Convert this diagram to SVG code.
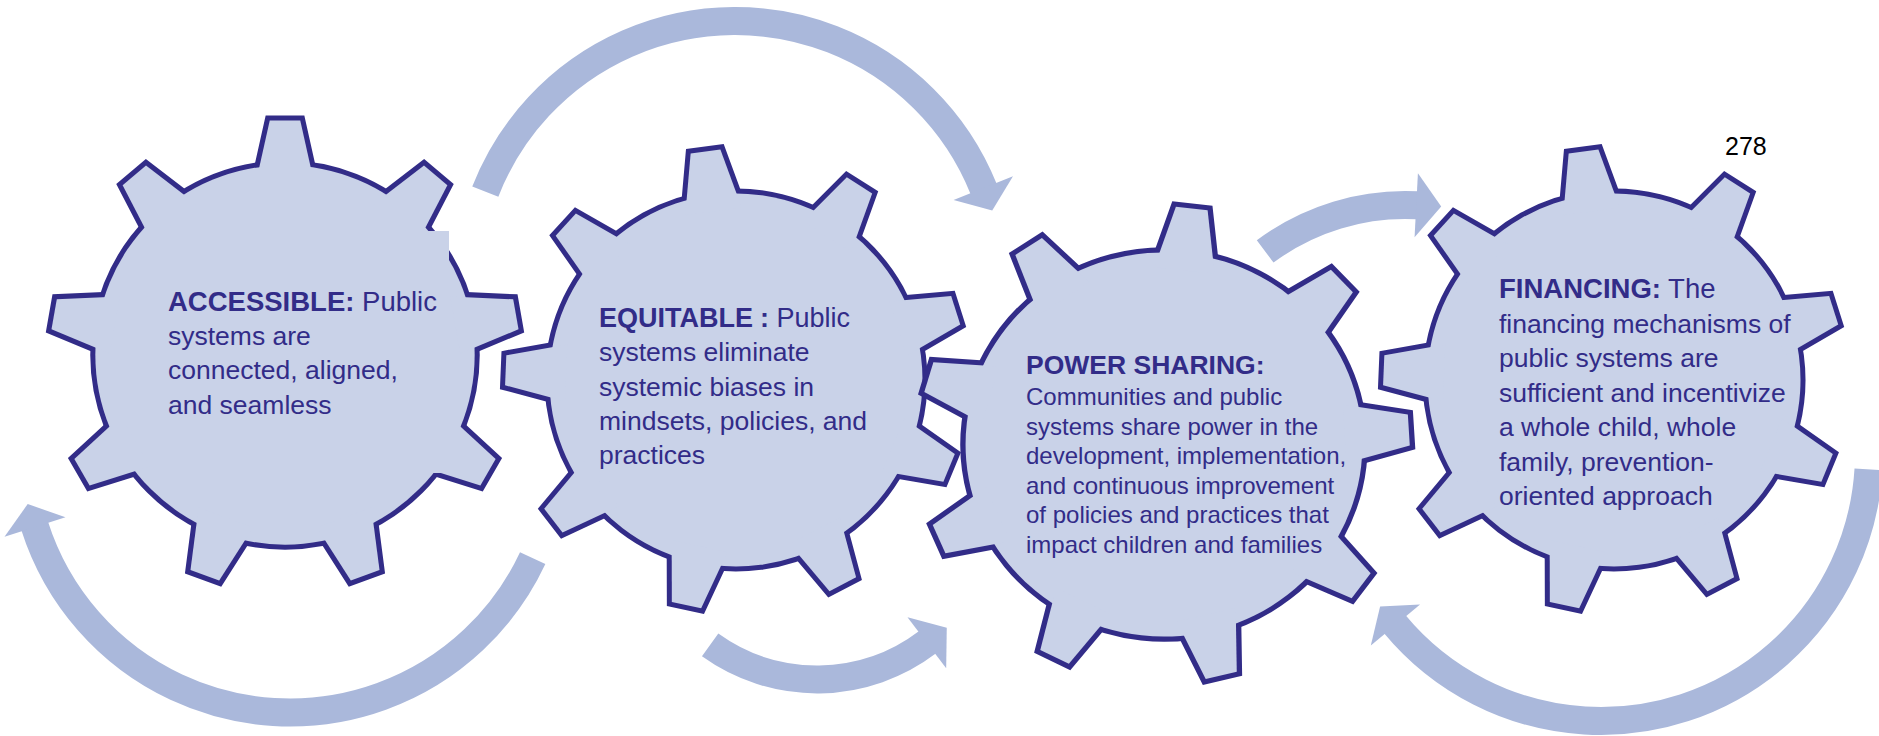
<svg xmlns="http://www.w3.org/2000/svg" xmlns:xlink="http://www.w3.org/1999/xlink" width="1879" height="736" viewBox="0 0 1879 736">
  <style>
    .arc { fill: none; stroke: #aab8db; stroke-width: 28; }
    .head { fill: #aab8db; }
    .rim { fill: none; stroke: #322c88; stroke-width: 10; stroke-linejoin: miter; }
    .body { fill: #c9d2e8; }
    .label { font-family: "Liberation Sans", Arial, sans-serif; font-size: 26.5px; fill: #322c88; }
    .hd { font-weight: bold; }
    .small { font-size: 24px; }
    .page { font-family: "Liberation Sans", Arial, sans-serif; font-size: 25px; fill: #000000; }
  </style>
  <defs>
    <!-- one trapezoid tooth pointing up; its base sinks into the hub -->
    <polygon id="tooth" points="-28.5,-170 -15,-230.5 15,-230.5 28.5,-170"/>
    <!-- nine-tooth gear outline, centred on the origin -->
    <g id="gearShape">
      <circle r="186.5"/>
      <use href="#tooth"/>
      <use href="#tooth" transform="rotate(40)"/>
      <use href="#tooth" transform="rotate(80)"/>
      <use href="#tooth" transform="rotate(120)"/>
      <use href="#tooth" transform="rotate(160)"/>
      <use href="#tooth" transform="rotate(200)"/>
      <use href="#tooth" transform="rotate(240)"/>
      <use href="#tooth" transform="rotate(280)"/>
      <use href="#tooth" transform="rotate(320)"/>
    </g>
  </defs>

  <rect width="1879" height="736" fill="#ffffff"/>

  <!-- curved arrows: partial circles plus a triangular head -->
  <g id="connectors">
    <g transform="translate(735,289)">
      <circle class="arc" r="268" transform="rotate(-158.7)" stroke-dasharray="639.9 1200"/>
      <polygon class="head" transform="rotate(-21.9)" points="236,-1 300,-1 268,23"/>
    </g>
    <g transform="translate(290,444.5)">
      <circle class="arc" r="268" transform="rotate(25.1)" stroke-dasharray="641.7 1200"/>
      <polygon class="head" transform="rotate(162.3)" points="236,-1 300,-1 268,23"/>
    </g>
    <g transform="translate(1405,439)">
      <circle class="arc" r="234" transform="rotate(-126.7)" stroke-dasharray="162.1 1500"/>
      <polygon class="head" transform="rotate(-87)" points="202,-1 266,-1 234,24"/>
    </g>
    <g transform="translate(817,496.4)">
      <circle class="arc" r="183" transform="rotate(52.8)" stroke-dasharray="232.8 1200"/>
      <polygon class="head" transform="rotate(52.8)" points="151,1 215,1 183,-24"/>
    </g>
    <g transform="translate(1601,453)">
      <circle class="arc" r="268" transform="rotate(3.5)" stroke-dasharray="639.9 1200"/>
      <polygon class="head" transform="rotate(140.3)" points="236,-1 300,-1 268,23"/>
    </g>
  </g>

  <g id="gear-accessible">
    <g transform="translate(285,355) scale(1.017)">
      <use href="#gearShape" class="rim"/>
      <use href="#gearShape" class="body"/>
    </g>
    <rect class="body" x="160" y="231" width="289" height="242"/>
    <text class="label">
      <tspan x="168" y="310.5" style="font-size:27.5px"><tspan class="hd">ACCESSIBLE:</tspan> Public</tspan>
      <tspan x="168" y="345">systems are</tspan>
      <tspan x="168" y="379">connected, aligned,</tspan>
      <tspan x="168" y="413.5">and seamless</tspan>
    </text>
  </g>

  <g id="gear-equitable">
    <g transform="translate(736,380) rotate(-7.6)">
      <use href="#gearShape" class="rim"/>
      <use href="#gearShape" class="body"/>
    </g>
    <text class="label">
      <tspan x="599" y="326.7" style="font-size:27px"><tspan class="hd">EQUITABLE</tspan><tspan class="hd" dx="7">:</tspan> Public</tspan>
      <tspan x="599" y="361">systems eliminate</tspan>
      <tspan x="599" y="395.7">systemic biases in</tspan>
      <tspan x="599" y="430">mindsets, policies, and</tspan>
      <tspan x="599" y="464.3">practices</tspan>
    </text>
  </g>

  <g id="gear-power-sharing">
    <g transform="translate(1164,444.5) scale(1.064,1.03) rotate(6.5)">
      <use href="#gearShape" class="rim"/>
      <use href="#gearShape" class="body"/>
    </g>
    <text class="label">
      <tspan class="hd" x="1026" y="374">POWER SHARING:</tspan>
      <tspan class="small" x="1026" y="405">Communities and public</tspan>
      <tspan class="small" x="1026" y="434.5">systems share power in the</tspan>
      <tspan class="small" x="1026" y="464">development, implementation,</tspan>
      <tspan class="small" x="1026" y="493.5">and continuous improvement</tspan>
      <tspan class="small" x="1026" y="523">of policies and practices that</tspan>
      <tspan class="small" x="1026" y="552.7">impact children and families</tspan>
    </text>
  </g>

  <g id="gear-financing">
    <g transform="translate(1614,380) rotate(-7.6)">
      <use href="#gearShape" class="rim"/>
      <use href="#gearShape" class="body"/>
    </g>
    <text class="label">
      <tspan x="1499" y="298" style="font-size:27.5px"><tspan class="hd">FINANCING:</tspan> The</tspan>
      <tspan x="1499" y="332.7">financing mechanisms of</tspan>
      <tspan x="1499" y="367.3">public systems are</tspan>
      <tspan x="1499" y="401.7">sufficient and incentivize</tspan>
      <tspan x="1499" y="436">a whole child, whole</tspan>
      <tspan x="1499" y="470.7">family, prevention-</tspan>
      <tspan x="1499" y="505">oriented approach</tspan>
    </text>
  </g>

  <text class="page" x="1725" y="155">278</text>
</svg>
